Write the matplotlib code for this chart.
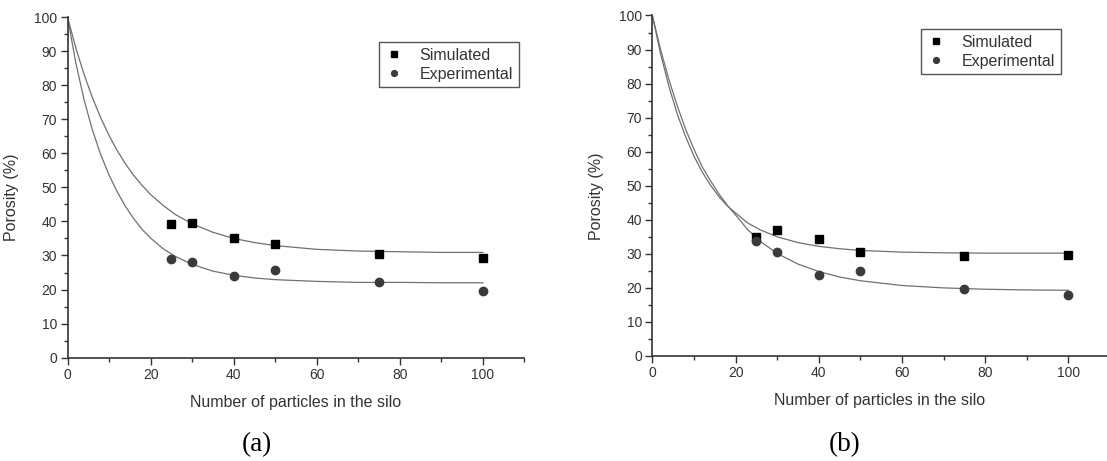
import matplotlib
matplotlib.use("Agg")
import matplotlib.pyplot as plt
import matplotlib.ticker as mticker

plt.rcParams["font.family"] = ["Liberation Sans", "DejaVu Sans"]

# measured points
N_PART = [25, 30, 40, 50, 75, 100]
SIM_A = [39.2, 39.6, 35.0, 33.4, 30.5, 29.4]
EXP_A = [29.0, 28.0, 24.0, 25.6, 22.1, 19.6]
SIM_B = [35.0, 37.0, 34.3, 30.6, 29.4, 29.8]
EXP_B = [33.9, 30.4, 23.7, 25.0, 19.8, 17.9]

# fitted curves
FIT_X = [0, 2, 4, 6, 8, 10, 12, 14, 16, 18, 20, 23, 26, 30, 35, 40, 45, 50, 60, 70, 80, 90, 100]
FIT_SIM_A = [100, 90.9, 83.1, 76.3, 70.4, 65.2, 60.7, 56.8, 53.4, 50.5, 47.9, 44.7, 42.0, 39.3,
             36.8, 35.0, 33.8, 32.9, 31.8, 31.3, 31.1, 30.9, 30.9]
FIT_EXP_A = [100, 86.5, 75.6, 66.8, 59.6, 53.6, 48.6, 44.3, 40.7, 37.6, 35.1, 32.0, 29.7, 27.4,
             25.4, 24.2, 23.4, 22.9, 22.4, 22.1, 22.1, 22.0, 22.0]
FIT_SIM_B = [100, 88.6, 79.1, 71.0, 64.4, 58.7, 54.0, 50.1, 46.8, 44.1, 42.0, 39.0, 37.0, 35.0,
             33.3, 32.2, 31.5, 31.0, 30.5, 30.3, 30.2, 30.2, 30.2]
FIT_EXP_B = [100, 89.9, 81.1, 73.4, 66.6, 60.7, 55.5, 51.4, 47.6, 44.3, 41.4, 37.0, 33.6, 30.1,
             27.0, 24.8, 23.2, 22.1, 20.7, 20.0, 19.6, 19.4, 19.3]

X_TICKS = [0, 20, 40, 60, 80, 100]
Y_TICKS = list(range(0, 101, 10))

AX_COL = "#333333"
FIT_COL = "#707070"

fig = plt.figure(figsize=(11.07, 4.61), dpi=100, facecolor="white")

panels = [
    ([0.0610, 0.2241, 0.4128, 0.7390], 110, SIM_A, EXP_A, FIT_SIM_A, FIT_EXP_A,
     (379 / 1107, 1 - 42 / 461), "(a)", 257 / 1107),
    ([0.5893, 0.2278, 0.4108, 0.7386], 109.3, SIM_B, EXP_B, FIT_SIM_B, FIT_EXP_B,
     (921 / 1107, 1 - 29 / 461), "(b)", 845 / 1107),
]

for pos, xmax, sim, exp_, fsim, fexp, leg_anchor, tag, tag_x in panels:
    ax = fig.add_axes(pos)
    ax.plot(FIT_X, fsim, color=FIT_COL, linewidth=0.9, zorder=2)
    ax.plot(FIT_X, fexp, color=FIT_COL, linewidth=0.9, zorder=2)
    ax.plot(N_PART, sim, linestyle="none", marker="s", markersize=5.5,
            color="black", label="Simulated", zorder=3)
    ax.plot(N_PART, exp_, linestyle="none", marker="o", markersize=6,
            color="#3a3a3a", label="Experimental", zorder=3)

    ax.set_xlim(0, xmax)
    ax.set_ylim(0, 100)
    ax.set_xticks(X_TICKS)
    ax.set_yticks(Y_TICKS)
    ax.xaxis.set_minor_locator(mticker.MultipleLocator(10))
    ax.yaxis.set_minor_locator(mticker.MultipleLocator(5))

    for side in ("top", "right"):
        ax.spines[side].set_visible(False)
    for side in ("left", "bottom"):
        ax.spines[side].set_color(AX_COL)
        ax.spines[side].set_linewidth(1.2)

    ax.tick_params(which="major", direction="out", length=5, width=1, color=AX_COL,
                   labelsize=10, labelcolor=AX_COL, pad=2.5)
    ax.tick_params(which="minor", direction="out", length=3, width=1, color=AX_COL)

    ax.set_xlabel("Number of particles in the silo", fontsize=11.5, color=AX_COL, labelpad=9)
    ax.set_ylabel("Porosity (%)", fontsize=11.5, color=AX_COL)
    ax.yaxis.set_label_coords(-0.106, 0.47)

    leg = ax.legend(loc="upper left", bbox_to_anchor=leg_anchor,
                    bbox_transform=fig.transFigure, borderaxespad=0,
                    fontsize=11.5, frameon=True, fancybox=False, framealpha=1,
                    edgecolor="#555555", markerscale=0.7, handlelength=1.2,
                    handletextpad=1.0, borderpad=0.35, labelspacing=0.25)
    leg.get_frame().set_linewidth(1.0)
    for t in leg.get_texts():
        t.set_color(AX_COL)

    fig.text(tag_x, 1 - 445 / 461, tag, fontsize=19.5, family=["Liberation Serif"],
             ha="center", va="center", color="black")

fig.savefig("out.png", dpi=100, facecolor="white")
